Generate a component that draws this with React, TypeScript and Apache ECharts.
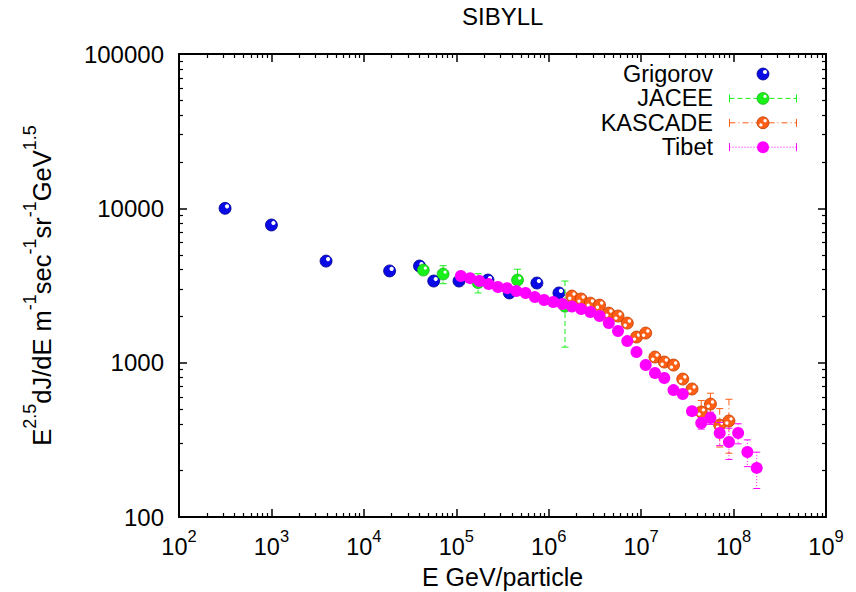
import React, { useEffect, useRef } from 'react';
import * as echarts from 'echarts';

const FONT = "'Liberation Sans', Arial, Helvetica, sans-serif";

// ---- axis ticks ----
const xMajorTicks = [1e2, 1e3, 1e4, 1e5, 1e6, 1e7, 1e8, 1e9];
const yMajorTicks = [100, 1000, 10000, 100000];
const minorMultipliers = [2, 3, 4, 5, 6, 7, 8, 9];

// ---- Grigorov ----
const grigorovE = [315, 1000, 3900, 19000, 40000, 57000, 107000, 220000, 375000, 745000, 1290000];
const grigorovFlux = [10000, 7800, 4550, 3930, 4230, 3380, 3380, 3430, 2830, 3280, 2830];

// ---- JACEE ----
const jaceeE = [44000, 72000, 172000, 460000, 1500000];
const jaceeFlux = [3980, 3750, 3300, 3430, 2320];
const jaceeErr = [250, 500, 470, 600, 1060];

// ---- KASCADE ----
const kascadeE = [1.78e6, 2.24e6, 2.82e6, 3.55e6, 4.47e6, 5.62e6, 7.08e6, 8.91e6, 1.12e7, 1.41e7, 1.78e7, 2.24e7, 2.82e7, 3.55e7, 4.47e7, 5.62e7, 7.08e7, 8.91e7];
const kascadeFlux = [2700, 2585, 2430, 2360, 2095, 2005, 1805, 1466, 1555, 1087, 1009, 965, 783, 675, 479, 539, 394, 419];
const kascadeErr = [60, 60, 60, 60, 55, 55, 50, 45, 45, 40, 40, 40, 40, 45, 90, 95, 110, 160];

// ---- Tibet ----
const tibetE = [1.12e5, 1.41e5, 1.78e5, 2.24e5, 2.82e5, 3.55e5, 4.47e5, 5.62e5, 7.08e5, 8.91e5, 1.12e6, 1.41e6, 1.78e6, 2.24e6, 2.82e6, 3.55e6, 4.47e6, 5.62e6, 7.08e6, 8.91e6, 1.12e7, 1.41e7, 1.78e7, 2.24e7, 2.82e7, 3.55e7, 4.47e7, 5.62e7, 7.08e7, 8.91e7, 1.12e8, 1.41e8, 1.78e8];
const tibetFlux = [3640, 3530, 3380, 3230, 3090, 3040, 2910, 2825, 2660, 2545, 2470, 2400, 2310, 2225, 2130, 2005, 1805, 1603, 1380, 1172, 965, 857, 795, 664, 626, 485, 406, 438, 350, 306, 350, 264, 208];
const tibetErr = [30, 30, 30, 30, 30, 30, 30, 30, 30, 30, 30, 30, 30, 30, 30, 30, 30, 30, 25, 25, 25, 25, 25, 25, 25, 25, 35, 40, 60, 70, 52, 52, 55];

const COLORS = {
  grigorov: '#0a0ae6',
  jacee: '#1af01a',
  kascade: '#ff5f15',
  tibet: '#ff00ff',
};
const DASH = {
  jacee: [5, 3],
  kascade: [6, 3, 1, 3],
  tibet: [1, 2],
};

type Kind = 'grigorov' | 'jacee' | 'kascade' | 'tibet';
const R = 6;

function markerEls(kind: Kind, cx: number, cy: number): any[] {
  if (kind === 'grigorov') {
    return [
      { type: 'circle', shape: { cx, cy, r: R }, style: { fill: COLORS.grigorov, stroke: '#00008a', lineWidth: 0.8 } },
      { type: 'circle', shape: { cx: cx + 2, cy: cy - 2, r: 2.1 }, style: { fill: '#ffffff' } },
    ];
  }
  if (kind === 'jacee') {
    return [
      { type: 'circle', shape: { cx, cy, r: R }, style: { fill: COLORS.jacee, stroke: '#10a010', lineWidth: 0.6 } },
      { type: 'circle', shape: { cx: cx + 2, cy: cy - 2, r: 1.6 }, style: { fill: '#ffffff' } },
    ];
  }
  if (kind === 'kascade') {
    return [
      { type: 'circle', shape: { cx, cy, r: R }, style: { fill: COLORS.kascade, stroke: '#c03a00', lineWidth: 0.8 } },
      { type: 'circle', shape: { cx: cx + 2.1, cy: cy - 2.1, r: 1.7 }, style: { fill: '#ffffff' } },
      { type: 'circle', shape: { cx: cx - 2.1, cy: cy + 2.1, r: 1.7 }, style: { fill: '#ffffff' } },
    ];
  }
  return [{ type: 'circle', shape: { cx, cy, r: R }, style: { fill: COLORS.tibet } }];
}

function markerSvg(kind: Kind, cx: number, cy: number): string {
  if (kind === 'grigorov') {
    return `<circle cx="${cx}" cy="${cy}" r="${R}" fill="${COLORS.grigorov}" stroke="#00008a" stroke-width="0.8"/><circle cx="${cx + 2}" cy="${cy - 2}" r="2.1" fill="#fff"/>`;
  }
  if (kind === 'jacee') {
    return `<circle cx="${cx}" cy="${cy}" r="${R}" fill="${COLORS.jacee}" stroke="#10a010" stroke-width="0.6"/><circle cx="${cx + 2}" cy="${cy - 2}" r="1.6" fill="#fff"/>`;
  }
  if (kind === 'kascade') {
    return `<circle cx="${cx}" cy="${cy}" r="${R}" fill="${COLORS.kascade}" stroke="#c03a00" stroke-width="0.8"/><circle cx="${cx + 2.1}" cy="${cy - 2.1}" r="1.7" fill="#fff"/><circle cx="${cx - 2.1}" cy="${cy + 2.1}" r="1.7" fill="#fff"/>`;
  }
  return `<circle cx="${cx}" cy="${cy}" r="${R}" fill="${COLORS.tibet}"/>`;
}

const ICON_W = 79;
const ICON_H = 16;
function legendIcon(kind: Kind, withBar: boolean): string {
  const color = (COLORS as any)[kind];
  const dash = withBar ? ((DASH as any)[kind] as number[]).join(',') : '';
  const x1 = 11.5;
  const x2 = ICON_W - 0.5;
  const cy = ICON_H / 2;
  let body = '';
  if (withBar) {
    body += `<line x1="${x1}" y1="${cy}" x2="${x2}" y2="${cy}" stroke="${color}" stroke-width="1" stroke-dasharray="${dash}"/>`;
    body += `<line x1="${x1}" y1="${cy - 4}" x2="${x1}" y2="${cy + 4}" stroke="${color}" stroke-width="1"/>`;
    body += `<line x1="${x2}" y1="${cy - 4}" x2="${x2}" y2="${cy + 4}" stroke="${color}" stroke-width="1"/>`;
  }
  body += markerSvg(kind, 45, cy);
  const svg = `<svg xmlns="http://www.w3.org/2000/svg" width="${ICON_W}" height="${ICON_H}" viewBox="0 0 ${ICON_W} ${ICON_H}">${body}</svg>`;
  return 'image://data:image/svg+xml;charset=utf-8,' + encodeURIComponent(svg);
}

function makeRenderItem(kind: Kind, withBar: boolean) {
  const color = (COLORS as any)[kind];
  const dash = withBar ? (DASH as any)[kind] : undefined;
  return (params: any, api: any) => {
    const x = api.value(0);
    const y = api.value(1);
    const e = withBar ? api.value(2) : 0;
    const p = api.coord([x, y]);
    const children: any[] = [];
    if (withBar && e > 0) {
      const top = api.coord([x, y + e]);
      const bot = api.coord([x, Math.max(y - e, 1)]);
      children.push({ type: 'line', shape: { x1: p[0], y1: top[1], x2: p[0], y2: bot[1] }, style: { stroke: color, lineWidth: 1, lineDash: dash } });
      children.push({ type: 'line', shape: { x1: p[0] - 3.5, y1: top[1], x2: p[0] + 3.5, y2: top[1] }, style: { stroke: color, lineWidth: 1 } });
      children.push({ type: 'line', shape: { x1: p[0] - 3.5, y1: bot[1], x2: p[0] + 3.5, y2: bot[1] }, style: { stroke: color, lineWidth: 1 } });
    }
    markerEls(kind, p[0], p[1]).forEach((m) => children.push(m));
    return { type: 'group', children };
  };
}

function minorValues(majors: number[]): number[] {
  const out: number[] = [];
  for (let i = 0; i < majors.length - 1; i++) {
    minorMultipliers.forEach((m) => out.push(majors[i] * m));
  }
  return out;
}

const textBase = { fontFamily: FONT, color: '#000' };

function buildOption(): any {
  const xMinor = minorValues(xMajorTicks);
  const yMinor = minorValues(yMajorTicks);

  const axisLineStyle = { show: true, onZero: false, lineStyle: { color: '#000', width: 2 } };
  const majorTick = (vals: number[]) => ({ show: true, inside: true, length: 8, customValues: vals, lineStyle: { color: '#000', width: 1.5 } });
  const minorTick = (vals: number[]) => ({ show: true, inside: true, length: 4, customValues: vals, lineStyle: { color: '#000', width: 1.2 } });

  const xCommon = { type: 'log', logBase: 10, min: 100, max: 1e9, gridIndex: 0, splitLine: { show: false } };
  const yCommon = { type: 'log', logBase: 10, min: 100, max: 100000, gridIndex: 0, splitLine: { show: false } };

  const series: any[] = [
    {
      name: 'Grigorov', type: 'custom', xAxisIndex: 0, yAxisIndex: 0, clip: false,
      renderItem: makeRenderItem('grigorov', false),
      encode: { x: 0, y: 1 },
      data: grigorovE.map((e, i) => [e, grigorovFlux[i]]),
      itemStyle: { color: COLORS.grigorov },
    },
    {
      name: 'JACEE', type: 'custom', xAxisIndex: 0, yAxisIndex: 0, clip: false,
      renderItem: makeRenderItem('jacee', true),
      encode: { x: 0, y: 1 },
      data: jaceeE.map((e, i) => [e, jaceeFlux[i], jaceeErr[i]]),
      itemStyle: { color: COLORS.jacee },
    },
    {
      name: 'KASCADE', type: 'custom', xAxisIndex: 0, yAxisIndex: 0, clip: false,
      renderItem: makeRenderItem('kascade', true),
      encode: { x: 0, y: 1 },
      data: kascadeE.map((e, i) => [e, kascadeFlux[i], kascadeErr[i]]),
      itemStyle: { color: COLORS.kascade },
    },
    {
      name: 'Tibet', type: 'custom', xAxisIndex: 0, yAxisIndex: 0, clip: false,
      renderItem: makeRenderItem('tibet', true),
      encode: { x: 0, y: 1 },
      data: tibetE.map((e, i) => [e, tibetFlux[i], tibetErr[i]]),
      itemStyle: { color: COLORS.tibet },
    },
  ];

  return {
    animation: false,
    backgroundColor: '#ffffff',
    textStyle: { fontFamily: FONT },
    title: {
      text: 'SIBYLL', left: 462, top: 4, padding: 0,
      textStyle: { ...textBase, fontSize: 24, fontWeight: 'normal' },
    },
    legend: {
      orient: 'vertical', right: 59, top: 62, padding: 0, align: 'right',
      itemGap: 0.4, itemWidth: ICON_W, itemHeight: ICON_H, selectedMode: false,
      textStyle: { ...textBase, fontSize: 23.5, lineHeight: 24 },
      data: [
        { name: 'Grigorov', icon: legendIcon('grigorov', false) },
        { name: 'JACEE', icon: legendIcon('jacee', true) },
        { name: 'KASCADE', icon: legendIcon('kascade', true) },
        { name: 'Tibet', icon: legendIcon('tibet', true) },
      ],
    },
    grid: { left: 179, right: 30, top: 54, bottom: 75, containLabel: false, outerBoundsMode: 'none', show: false },
    xAxis: [
      {
        ...xCommon, position: 'bottom',
        axisLine: axisLineStyle,
        axisTick: majorTick(xMajorTicks),
        axisLabel: {
          customValues: xMajorTicks, margin: 10,
          formatter: (v: number) => `{b|10}{s|${Math.round(Math.log10(v))}}`,
          rich: {
            b: { ...textBase, fontSize: 23.5, lineHeight: 32, verticalAlign: 'bottom' },
            s: { ...textBase, fontSize: 16.5, lineHeight: 16, verticalAlign: 'top' },
          },
        },
        name: 'E GeV/particle', nameLocation: 'middle', nameGap: 47,
        nameTextStyle: { ...textBase, fontSize: 25 },
      },
      {
        ...xCommon, position: 'top',
        axisLine: axisLineStyle,
        axisTick: majorTick(xMajorTicks),
        axisLabel: { show: false },
      },
      {
        ...xCommon, position: 'bottom',
        axisLine: { show: false },
        axisTick: minorTick(xMinor),
        axisLabel: { show: false },
      },
      {
        ...xCommon, position: 'top',
        axisLine: { show: false },
        axisTick: minorTick(xMinor),
        axisLabel: { show: false },
      },
    ],
    yAxis: [
      {
        ...yCommon, position: 'left',
        axisLine: axisLineStyle,
        axisTick: majorTick(yMajorTicks),
        axisLabel: {
          customValues: yMajorTicks, margin: 15,
          formatter: (v: number) => String(Math.round(v)),
          ...textBase, fontSize: 24,
        },
        name: '{b|E}{s|2.5}{b|dJ/dE m}{s|-1}{b|sec}{s|-1}{b|sr}{s|-1}{b|GeV}{s|1.5}',
        nameLocation: 'middle', nameRotate: 90, nameGap: 124,
        nameTextStyle: {
          ...textBase,
          rich: {
            b: { ...textBase, fontSize: 25.5, lineHeight: 34, verticalAlign: 'bottom' },
            s: { ...textBase, fontSize: 18, lineHeight: 18, verticalAlign: 'top' },
          },
        },
      },
      {
        ...yCommon, position: 'right',
        axisLine: axisLineStyle,
        axisTick: majorTick(yMajorTicks),
        axisLabel: { show: false },
      },
      {
        ...yCommon, position: 'left',
        axisLine: { show: false },
        axisTick: minorTick(yMinor),
        axisLabel: { show: false },
      },
      {
        ...yCommon, position: 'right',
        axisLine: { show: false },
        axisTick: minorTick(yMinor),
        axisLabel: { show: false },
      },
    ],
    series,
  };
}

export default function App() {
  const ref = useRef<HTMLDivElement>(null);
  useEffect(() => {
    if (!ref.current) return;
    const chart = echarts.init(ref.current, null, { renderer: 'svg' });
    chart.setOption(buildOption());
    return () => chart.dispose();
  }, []);
  return (
    <div
      ref={ref}
      style={{ position: 'absolute', left: 0, top: 0, width: 856, height: 592, background: '#fff' }}
    />
  );
}
